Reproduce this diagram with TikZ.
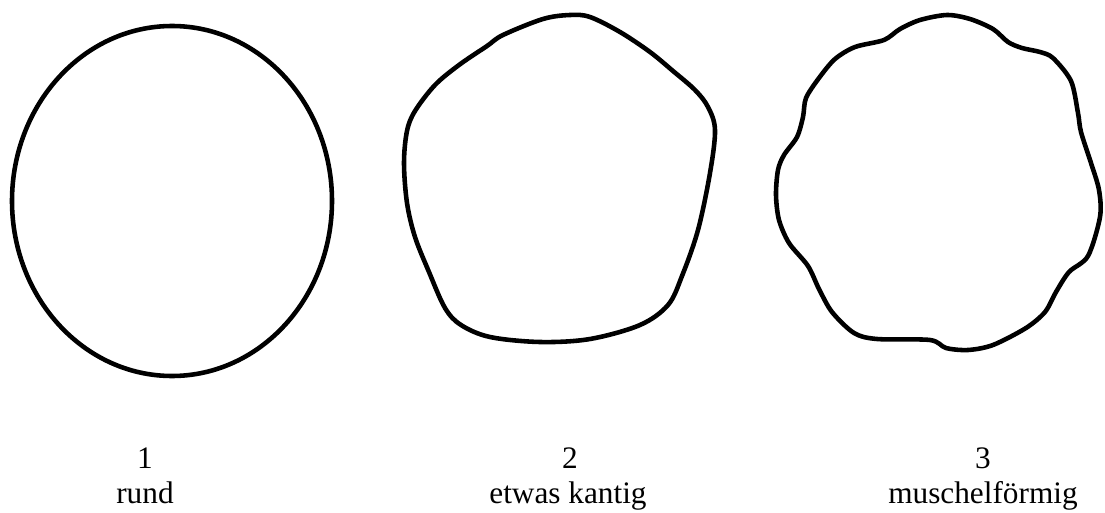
\documentclass[tikz,border=0pt]{standalone}
\usepackage{fontspec}
\setmainfont{Liberation Serif}
\usetikzlibrary{positioning}
\tikzset{
  grainline/.style={line width=2.6pt, line join=round, line cap=round},
  grainlabel/.style={font=\fontsize{17.8pt}{21pt}\selectfont, anchor=base,
    inner sep=0pt},
}

\begin{document}
\begin{tikzpicture}[x=0.2mm, y=-0.2mm]
  \useasboundingbox (0,0) rectangle (1105,513);

  % 1: round grain
  \draw[grainline] (172,201) ellipse[x radius=160, y radius=175];

  % 2: grain with blunt corners
  \draw[grainline] plot[smooth cycle, tension=0.55] coordinates {
    (503,35) (543,19) (570,15) (590,17) (620,32) (650,52) (673,71)
    (695,90) (708,107) (715,130) (710,173) (698,230) (682,276) (668,305)
    (640,325) (590,339) (540,342) (490,337) (461,325) (445,308) (429,272)
    (415,237) (407,203) (404,163) (407,131) (415,111) (435,85) (459,65)
    (487,46)};

  % 3: scalloped grain
  \draw[grainline] plot[smooth cycle, tension=0.5] coordinates {
    (900,29) (920,20) (947,15) (970,19) (993,29) (1008,42) (1022,48)
    (1040,52) (1053,58) (1071,81) (1078,113) (1081,132) (1091,163)
    (1099,190) (1100,217) (1088,256) (1069,272) (1056,292) (1045,312)
    (1026,328) (993,345) (968,350) (946,348) (930,340) (877,339)
    (854,333) (832,312) (819,289) (808,266) (789,243) (779,220)
    (776,195) (778,170) (784,155) (797,137) (803,117) (806,98)
    (819,78) (835,59) (855,47) (884,40)};

  % captions
  \node[grainlabel] (num1) at (145,468) {1};
  \node[grainlabel] (name1) at (145,503) {rund};
  \node[grainlabel] (num2) at (570,468) {2};
  \node[grainlabel] (name2) at (568,503) {etwas kantig};
  \node[grainlabel] (num3) at (983,468) {3};
  \node[grainlabel] (name3) at (983,503) {muschelförmig};
\end{tikzpicture}
\end{document}
